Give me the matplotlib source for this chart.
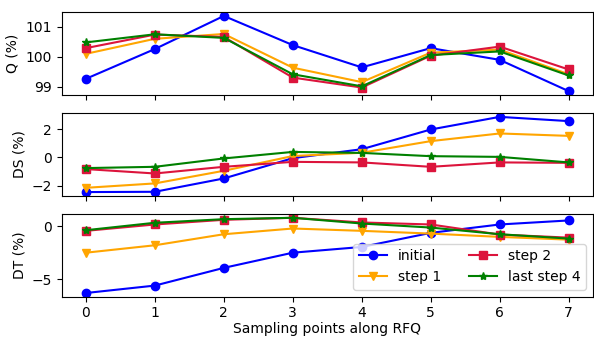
import matplotlib
matplotlib.use("Agg")
import matplotlib.pyplot as plt
from matplotlib.ticker import MultipleLocator

points = [0, 1, 2, 3, 4, 5, 6, 7]
series_names = ["initial", "step 1", "step 2", "last step 4"]

# Q (%)
q_initial = [99.27, 100.26, 101.36, 100.39, 99.65, 100.29, 99.90, 98.86]
q_step1 = [100.10, 100.60, 100.76, 99.64, 99.16, 100.14, 100.24, 99.42]
q_step2 = [100.29, 100.74, 100.66, 99.31, 98.98, 100.04, 100.34, 99.58]
q_last = [100.48, 100.75, 100.63, 99.42, 99.02, 100.06, 100.18, 99.38]

# DS (%)
ds_initial = [-2.44, -2.42, -1.48, -0.05, 0.58, 1.97, 2.86, 2.56]
ds_step1 = [-2.14, -1.83, -0.94, 0.10, 0.33, 1.15, 1.69, 1.52]
ds_step2 = [-0.82, -1.13, -0.66, -0.31, -0.35, -0.66, -0.35, -0.38]
ds_last = [-0.75, -0.66, -0.07, 0.39, 0.32, 0.09, 0.04, -0.35]

# DT (%)
dt_initial = [-6.30, -5.60, -3.93, -2.50, -1.96, -0.63, 0.16, 0.54]
dt_step1 = [-2.50, -1.80, -0.76, -0.22, -0.44, -0.70, -1.01, -1.27]
dt_step2 = [-0.44, 0.16, 0.60, 0.79, 0.35, 0.16, -0.79, -1.08]
dt_last = [-0.38, 0.32, 0.66, 0.79, 0.25, -0.13, -0.76, -1.17]

colors = ["blue", "orange", "crimson", "green"]
markers = ["o", "v", "s", "*"]

panels = [
    ("Q (%)", [q_initial, q_step1, q_step2, q_last], 1),
    ("DS (%)", [ds_initial, ds_step1, ds_step2, ds_last], 2),
    ("DT (%)", [dt_initial, dt_step1, dt_step2, dt_last], 5),
]

fig, axes = plt.subplots(3, 1, sharex=True, figsize=(5.94, 3.38), dpi=100)
fig.subplots_adjust(left=0.104, right=0.998, top=0.964, bottom=0.122, hspace=0.22)

for ax, (ylabel, data, step) in zip(axes, panels):
    for vals, name, c, m in zip(data, series_names, colors, markers):
        ax.plot(points, vals, color=c, marker=m, label=name)
    ax.set_ylabel(ylabel)
    ax.yaxis.set_major_locator(MultipleLocator(step))

axes[-1].set_xlabel("Sampling points along RFQ", labelpad=1)
axes[-1].legend(ncol=2, loc="lower right")

fig.savefig("out.png", dpi=100)
